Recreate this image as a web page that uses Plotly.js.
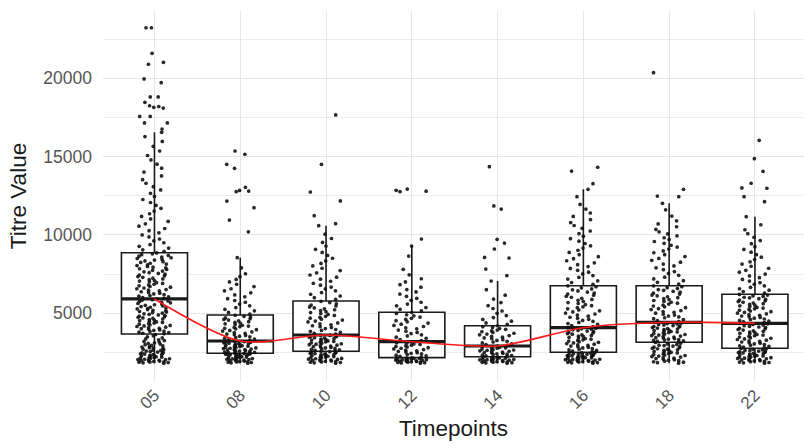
<!DOCTYPE html>
<html>
<head>
<meta charset="utf-8">
<script src="https://cdn.plot.ly/plotly-3.0.1.min.js"></script>
<style>
html,body{margin:0;padding:0;background:#fff;}
#chart{width:804px;height:448px;}
</style>
</head>
<body>
<div id="chart"></div>
<script>
// Categories (timepoints)
const timepoints = ['05','08','10','12','14','16','18','22'];

// Box statistics
const q1Vals     = [3670, 2440, 2570, 2160, 2222, 2503, 3142, 2759];
const medianVals = [5910, 3225, 3608, 3180, 2906, 4074, 4419, 4355];
const q3Vals     = [8860, 4885, 5780, 5058, 4202, 6757, 6757, 6207];
const lowVals    = [1810, 1810, 1810, 1810, 1810, 1810, 1810, 1810];
const highVals   = [16550, 8545, 10590, 9290, 7057, 12912, 12018, 11163];

// Individual titre values per timepoint (estimated from the jittered points)
const titre05 = [1810,1830,1850,1870,1880,1900,1920,1940,1950,1970,1990,2010,2030,2040,2060,2090,2110,2130,2150,2170,
  2190,2220,2240,2260,2290,2310,2340,2360,2390,2410,2440,2470,2500,2520,2550,2580,2610,2640,2670,2700,
  2740,2770,2800,2840,2870,2910,2950,2990,3030,3070,3110,3160,3200,3250,3300,3360,3420,3490,3560,3640,
  3690,3720,3760,3790,3830,3860,3900,3930,3970,4010,4040,4080,4110,4150,4190,4220,4260,4300,4330,4370,
  4410,4440,4480,4520,4550,4590,4630,4670,4700,4740,4780,4810,4850,4890,4930,4960,5000,5040,5080,5110,
  5150,5190,5230,5270,5300,5340,5380,5420,5460,5500,5540,5580,5620,5660,5700,5740,5780,5820,5860,5900,
  5950,5990,6040,6090,6130,6180,6230,6280,6320,6370,6420,6470,6510,6560,6610,6660,6710,6750,6800,6850,
  6900,6950,7000,7050,7090,7140,7190,7240,7290,7340,7390,7440,7490,7540,7590,7640,7690,7740,7790,7840,
  7890,7940,7990,8040,8090,8140,8190,8240,8290,8340,8390,8440,8490,8540,8590,8640,8690,8740,8790,8850,
  8950,9050,9160,9270,9380,9500,9620,9740,9870,10000,10130,10270,10410,10560,10710,10860,11020,11180,11350,11520,
  11700,11880,12070,12260,12460,12660,12870,13080,13300,13530,13770,14010,14260,14520,14790,15070,15360,15660,15970,16280,
  16550,16760,17150,17150,17570,17570,18100,18150,18200,18250,18470,18810,18810,19720,19960,20900,21020,21600,23230,23230];

const titre08 = [1810,1830,1850,1870,1890,1900,1920,1940,1960,1980,2000,2020,2040,2060,2080,2100,2120,2140,2160,2180,
  2200,2220,2240,2260,2280,2300,2320,2340,2360,2380,2390,2400,2410,2420,2435,
  2460,2480,2500,2520,2540,2560,2580,2600,2620,2650,2670,2690,2710,2740,2760,2780,2800,2830,2850,2870,
  2890,2920,2940,2960,2990,3010,3030,3060,3080,3110,3130,3150,3170,3190,3210,
  3260,3300,3350,3400,3440,3490,3530,3580,3620,3670,3720,3760,3810,3860,3900,3950,4000,4040,4090,4140,
  4180,4230,4280,4320,4370,4420,4460,4510,4560,4600,4650,4700,4750,4800,4870,
  4950,5050,5150,5250,5360,5470,5580,5700,5810,5930,6050,6170,6300,6430,6560,6700,6850,7000,7160,7330,
  7520,7900,8545,10200,10950,11740,12160,12760,12800,12840,13040,14250,14510,15150,15360];

const titre10 = [1810,1830,1850,1870,1890,1910,1930,1950,1970,1990,2010,2030,2050,2070,2090,2110,2140,2160,2180,2200,
  2230,2250,2270,2300,2320,2340,2370,2390,2420,2440,2460,2490,2510,2540,2560,
  2600,2630,2660,2690,2720,2750,2780,2810,2840,2870,2900,2930,2960,2990,3020,3050,3080,3110,3140,3170,
  3200,3230,3260,3290,3320,3350,3380,3410,3440,3470,3500,3530,3560,3580,3600,
  3660,3720,3780,3840,3900,3960,4020,4080,4140,4200,4260,4320,4380,4440,4500,4560,4620,4680,4740,4800,
  4860,4920,4980,5040,5100,5160,5220,5280,5340,5400,5460,5520,5600,5680,5760,
  5880,5990,6100,6210,6320,6430,6550,6670,6790,6910,7040,7170,7300,7440,7580,7720,7870,8020,8180,8340,
  8510,8690,8880,9080,9290,9520,9770,10050,10590,10720,11230,12170,12740,14510,17660];

const titre12 = [1810,1825,1840,1855,1870,1885,1900,1915,1930,1945,1960,1975,1990,2005,2020,2035,2050,2065,2080,2095,
  2110,2120,2130,2145,2155,
  2200,2240,2280,2320,2360,2400,2440,2480,2520,2560,2600,2640,2680,2720,2760,2800,2840,2880,2920,2960,
  3000,3040,3080,3120,3170,
  3250,3320,3400,3470,3550,3620,3700,3770,3850,3920,4000,4070,4150,4220,4300,4370,4450,4520,4600,4670,
  4750,4830,4900,4980,5050,
  5150,5250,5360,5470,5580,5700,5820,5950,6080,6220,6360,6510,6660,6820,7000,7200,7450,7800,8650,9290,
  9740,12760,12790,12850,12930];

const titre14 = [1810,1825,1840,1860,1875,1890,1905,1920,1940,1955,1970,1985,2000,2020,2035,2050,2065,2080,2100,2115,
  2130,2150,2170,2190,2210,
  2250,2280,2300,2330,2360,2380,2410,2440,2470,2490,2520,2550,2570,2600,2630,2650,2680,2710,2740,2760,
  2790,2820,2840,2870,2900,
  2950,3000,3050,3100,3160,3210,3260,3310,3370,3420,3470,3520,3570,3620,3670,3720,3770,3820,3870,3920,
  3970,4020,4080,4140,4200,
  4280,4380,4490,4600,4720,4850,4990,5140,5300,5480,5680,5900,6150,6500,7057,
  7400,7820,8525,8560,9100,9480,9720,11650,11850,14355];

const titre16 = [1810,1830,1845,1860,1880,1895,1910,1930,1945,1960,1980,1995,2010,2030,2045,2060,2080,2095,2110,2130,
  2145,2160,2180,2195,2210,2230,2245,2260,2280,2300,2320,2340,2360,2380,2400,2420,2440,2460,2480,2500,
  2540,2580,2620,2660,2700,2740,2780,2820,2860,2900,2940,2980,3020,3060,3100,3140,3180,3220,3260,3300,
  3340,3380,3420,3460,3500,3540,3580,3620,3660,3700,3740,3780,3820,3860,3900,3940,3980,4010,4040,4070,
  4140,4210,4280,4340,4410,4480,4540,4610,4680,4740,4810,4880,4950,5010,5080,5150,5210,5280,5350,5410,
  5480,5550,5620,5680,5750,5820,5880,5950,6020,6080,6150,6220,6290,6350,6420,6490,6550,6620,6690,6750,
  6850,6960,7070,7180,7290,7400,7510,7620,7740,7860,7980,8100,8220,8350,8480,8610,8740,8880,9020,9160,
  9300,9450,9600,9760,9920,10080,10250,10420,10600,10790,10980,11180,11400,11650,11950,12440,12912,13270,14080,14320];

const titre18 = [1810,1840,1870,1900,1930,1970,2000,2030,2060,2100,2130,2160,2200,2230,2260,2300,2330,2360,2400,2430,
  2460,2500,2530,2560,2600,2630,2660,2700,2730,2760,2800,2830,2860,2900,2930,2960,3000,3040,3080,3130,
  3170,3200,3230,3260,3290,3320,3350,3380,3410,3440,3480,3510,3540,3570,3600,3640,3670,3700,3730,3760,
  3800,3830,3860,3890,3920,3960,3990,4020,4050,4080,4120,4150,4180,4210,4240,4280,4310,4340,4370,4410,
  4470,4530,4590,4650,4710,4760,4820,4880,4940,5000,5060,5110,5170,5230,5290,5350,5410,5460,5520,5580,
  5640,5700,5760,5810,5870,5930,5990,6050,6110,6160,6220,6280,6340,6400,6460,6510,6570,6630,6690,6750,
  6860,6970,7080,7190,7300,7420,7540,7660,7780,7900,8020,8140,8260,8380,8500,8620,8740,8860,8980,9100,
  9220,9340,9460,9580,9700,9820,9940,10060,10200,10350,10520,10700,10900,11200,11600,12018,12440,12480,12910,20358];

const titre22 = [1810,1830,1850,1880,1900,1920,1950,1970,1990,2020,2040,2060,2090,2110,2130,2160,2180,2200,2230,2250,
  2270,2300,2320,2350,2370,2390,2420,2440,2460,2490,2510,2530,2560,2580,2610,2630,2660,2690,2720,2750,
  2800,2840,2880,2920,2960,3000,3040,3080,3120,3160,3200,3240,3280,3320,3360,3400,3440,3480,3520,3560,
  3600,3640,3680,3720,3760,3800,3840,3880,3920,3960,4000,4040,4080,4120,4160,4200,4240,4280,4320,4350,
  4400,4450,4500,4540,4590,4630,4680,4730,4770,4820,4870,4910,4960,5000,5050,5100,5140,5190,5240,5280,
  5330,5370,5420,5470,5510,5560,5610,5650,5700,5740,5790,5840,5880,5930,5980,6020,6070,6110,6160,6200,
  6290,6380,6470,6560,6650,6750,6850,6950,7050,7160,7270,7380,7500,7620,7740,7870,8000,8140,8280,8430,
  8580,8740,8900,9070,9250,9440,9640,9850,10080,10330,10650,11163,12120,12440,12980,13000,13300,14060,14870,16040];

const titreByTimepoint = [titre05, titre08, titre10, titre12, titre14, titre16, titre18, titre22];

// Axis ticks
const yTickVals = [5000, 10000, 15000, 20000];
const yTickText = ['5000', '10000', '15000', '20000'];

const BOXW = 0.77;
const FONT = '"Liberation Sans", Arial, Helvetica, sans-serif';
const INK = '#1a1a1a';

const traces = [];

// Box outlines (white filled)
traces.push({
  type: 'box',
  x: timepoints,
  q1: q1Vals, median: medianVals, q3: q3Vals,
  lowerfence: lowVals, upperfence: highVals,
  boxpoints: false,
  width: BOXW,
  whiskerwidth: 0,
  fillcolor: '#ffffff',
  line: {color: INK, width: 1.6},
  hoverinfo: 'skip',
  showlegend: false
});

// Thick median bars
traces.push({
  type: 'box',
  x: timepoints,
  q1: medianVals, median: medianVals, q3: medianVals,
  lowerfence: medianVals, upperfence: medianVals,
  boxpoints: false,
  width: BOXW,
  whiskerwidth: 0,
  fillcolor: 'rgba(0,0,0,0)',
  line: {color: INK, width: 3.2},
  hoverinfo: 'skip',
  showlegend: false
});

// Jittered points: split each timepoint into bands (quartile bands, whisker band, outliers)
// so that plotly's density-aware jitter spreads every band across the same width
timepoints.forEach((tp, i) => {
  const ys = titreByTimepoint[i];
  const cuts = [q1Vals[i], medianVals[i], q3Vals[i], highVals[i]];
  const bands = [[], [], [], [], []];
  ys.forEach(v => {
    let b = 0;
    while (b < 4 && (b < 3 ? v >= cuts[b] : v > cuts[b])) b++;
    bands[b].push(v);
  });
  bands.forEach(band => {
    if (!band.length) return;
    traces.push({
      type: 'box',
      x: band.map(() => tp),
      y: band,
      boxpoints: 'all',
      jitter: 0.56,
      pointpos: 0,
      width: BOXW,
      fillcolor: 'rgba(0,0,0,0)',
      line: {color: 'rgba(0,0,0,0)', width: 0},
      marker: {color: '#111111', size: 3.7, opacity: 0.9},
      hoverinfo: 'y',
      showlegend: false
    });
  });
});

// Red line through the medians
traces.push({
  type: 'scatter',
  mode: 'lines',
  x: timepoints,
  y: medianVals,
  line: {color: '#ff1a1a', width: 1.6, shape: 'spline', smoothing: 0.8},
  hoverinfo: 'skip',
  showlegend: false
});

const layout = {
  width: 804,
  height: 448,
  margin: {l: 103, r: 0, t: 11, b: 67, pad: 0},
  paper_bgcolor: '#ffffff',
  plot_bgcolor: '#ffffff',
  boxmode: 'overlay',
  showlegend: false,
  font: {family: FONT, color: '#4d4d4d'},
  xaxis: {
    type: 'category',
    categoryorder: 'array',
    categoryarray: timepoints,
    range: [-0.6, 7.572],
    showgrid: true,
    gridcolor: '#e6e6e6',
    gridwidth: 1.3,
    zeroline: false,
    showline: false,
    ticks: '',
    tickangle: -45,
    tickfont: {family: FONT, size: 17, color: '#555555'},
    title: {text: 'Timepoints', font: {family: FONT, size: 22.5, color: INK}, standoff: 8}
  },
  yaxis: {
    range: [670, 24300],
    tickmode: 'array',
    tickvals: yTickVals,
    ticktext: yTickText,
    showgrid: true,
    gridcolor: '#e6e6e6',
    gridwidth: 1.3,
    minor: {dtick: 2500, tick0: 0, showgrid: true, gridcolor: '#ececec', gridwidth: 1, ticks: ''},
    zeroline: false,
    showline: false,
    ticks: '',
    ticklabelstandoff: 10,
    tickfont: {family: FONT, size: 17.5, color: '#555555'},
    title: {text: 'Titre Value', font: {family: FONT, size: 22.5, color: INK}, standoff: 10}
  }
};

Plotly.newPlot('chart', traces, layout, {displayModeBar: false, responsive: false});
</script>
</body>
</html>
